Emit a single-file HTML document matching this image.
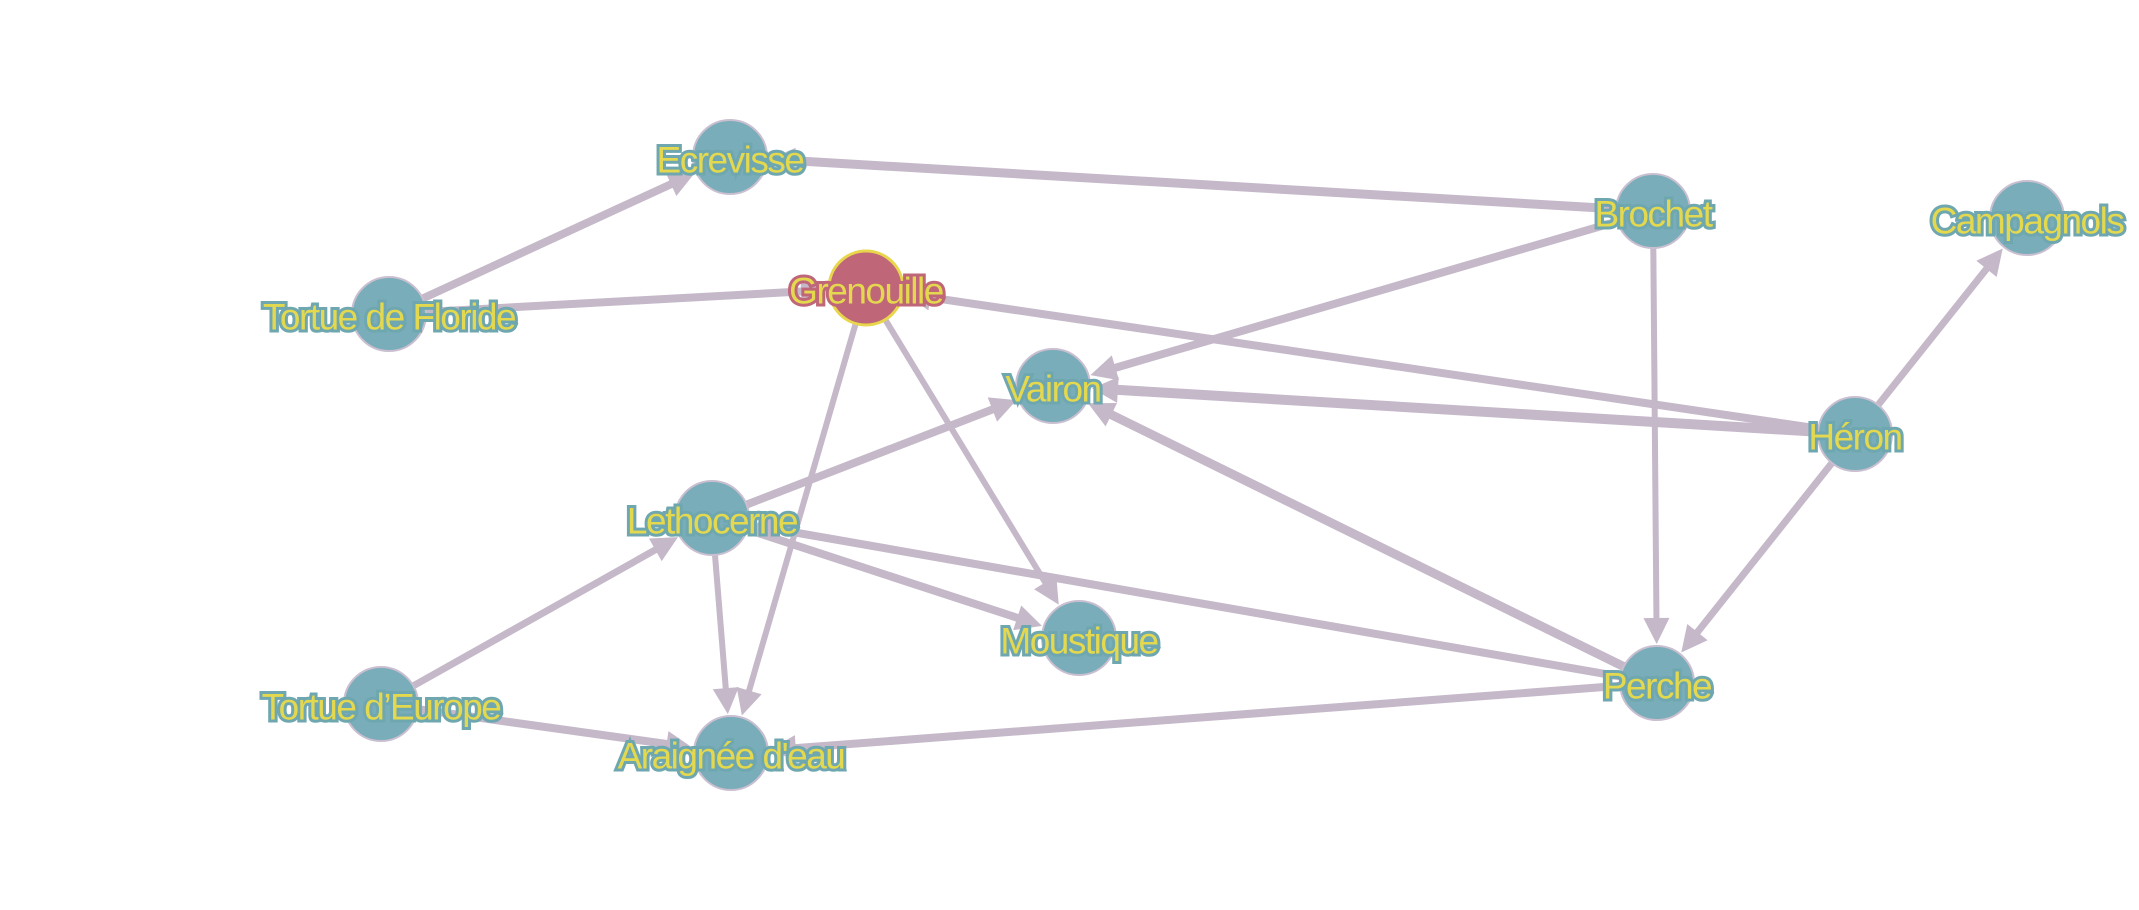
<!DOCTYPE html>
<html><head><meta charset="utf-8"><style>
html,body{margin:0;padding:0;background:#fff;width:2139px;height:910px;overflow:hidden}
svg{display:block}
.n{fill:#79adb9;stroke:#c9bfd0;stroke-width:2}
.g{fill:#bf6679;stroke:#e8d64c;stroke-width:3}
text{font-family:"Liberation Sans",Arial,sans-serif;font-size:37px;fill:#e4d84e;stroke:#6fa7b0;stroke-width:6;paint-order:stroke;text-anchor:middle;dominant-baseline:central;letter-spacing:-1.5px}
text.gt{stroke:#bf6679}
</style></head><body>
<svg id="s" width="2139" height="910" viewBox="0 0 2139 910">
<g id="edges"></g>
<g id="nodes">
<circle class="n" cx="730" cy="157" r="37"/><text x="730" y="160">Ecrevisse</text>
<circle class="n" cx="1653" cy="211" r="37"/><text x="1653" y="214">Brochet</text>
<circle class="n" cx="2027" cy="218" r="37"/><text x="2027" y="221">Campagnols</text>
<circle class="n" cx="389" cy="314" r="37"/><text x="389" y="317">Tortue de Floride</text>
<circle class="g" cx="866" cy="288" r="37"/><text class="gt" x="866" y="291">Grenouille</text>
<circle class="n" cx="1053" cy="386" r="37"/><text x="1053" y="389">Vairon</text>
<circle class="n" cx="1855" cy="434" r="37"/><text x="1855" y="437">Héron</text>
<circle class="n" cx="712" cy="518" r="37"/><text x="712" y="521">Lethocerne</text>
<circle class="n" cx="1079" cy="638" r="37"/><text x="1079" y="641">Moustique</text>
<circle class="n" cx="1657" cy="683" r="37"/><text x="1657" y="686">Perche</text>
<circle class="n" cx="381" cy="704" r="37"/><text x="381" y="707">Tortue d’Europe</text>
<circle class="n" cx="731" cy="753" r="37"/><text x="731" y="756">Araignée d'eau</text>
</g>
</svg>
<script>
var P={E:[730,157],B:[1653,211],C:[2027,218],TF:[389,314],G:[866,288],V:[1053,386],H:[1855,434],L:[712,518],M:[1079,638],P:[1657,683],TE:[381,704],A:[731,753]};
var E=[["TF","E",8],["B","E",9],["TF","G",8],["H","G",8],["B","V",8],["H","V",10],["P","V",9],["L","V",8],["B","P",6],["H","P",7],["H","C",7],["G","A",6],["G","M",6],["L","M",8],["L","A",6],["P","L",8],["TE","L",7],["TE","A",8],["P","A",8]];
var g=document.getElementById("edges"),ns="http://www.w3.org/2000/svg",c="#c4b8c9";
E.forEach(function(e){var a=P[e[0]],b=P[e[1]],dx=b[0]-a[0],dy=b[1]-a[1],d=Math.hypot(dx,dy),ux=dx/d,uy=dy/d,r=39,al=26,aw=13;
var tx=b[0]-ux*r,ty=b[1]-uy*r,bx=tx-ux*al,by=ty-uy*al;
var l=document.createElementNS(ns,"line");l.setAttribute("x1",a[0]);l.setAttribute("y1",a[1]);l.setAttribute("x2",bx+ux*2);l.setAttribute("y2",by+uy*2);l.setAttribute("stroke",c);l.setAttribute("stroke-width",e[2]);g.appendChild(l);
var p=document.createElementNS(ns,"polygon");p.setAttribute("points",tx+","+ty+" "+(bx-uy*aw)+","+(by+ux*aw)+" "+(bx+uy*aw)+","+(by-ux*aw));p.setAttribute("fill",c);g.appendChild(p);});
</script>
</body></html>
